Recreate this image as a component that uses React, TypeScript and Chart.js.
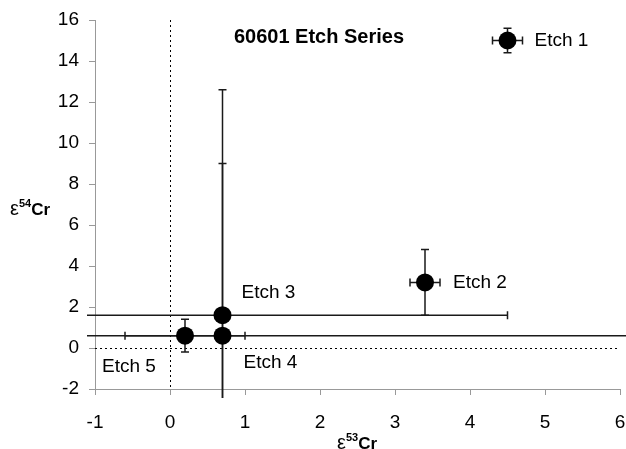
import React, { useEffect, useRef } from "react";
import { Chart, registerables } from "chart.js";

Chart.register(...registerables);

// ---- data ----
const etchNames = ["Etch 1", "Etch 2", "Etch 3", "Etch 4", "Etch 5"];
const e53Cr = [4.5, 3.4, 0.7, 0.7, 0.2];
const e54Cr = [15.0, 3.2, 1.6, 0.6, 0.6];
const e53CrErr = [0.2, 0.2, 3.8, 7.0, 0.8];
const e54CrErr = [0.6, 1.6, 11.0, 8.4, 0.8];
const xRange = [-1, 6];
const yRange = [-2, 16];
const xStep = 1;
const yStep = 2;
const chartTitle = "60601 Etch Series";

// ---- styles ----
const FONT = "'Liberation Sans', Arial, sans-serif";
const labelOffsets = [
  [27, 0],
  [28, 0],
  [19, -22],
  [21, 27],
  [-83, 31],
];

const customPlugin = {
  id: "custom",
  beforeDatasetsDraw(chart: any) {
    const { ctx, chartArea, scales } = chart;
    const xs = scales.x;
    const ys = scales.y;
    ctx.save();
    // dotted zero lines
    ctx.strokeStyle = "#000";
    ctx.lineWidth = 1;
    ctx.setLineDash([2, 3]);
    const x0 = Math.round(xs.getPixelForValue(0)) + 0.5;
    const y0 = Math.round(ys.getPixelForValue(0)) + 0.5;
    ctx.beginPath();
    ctx.moveTo(x0, chartArea.top);
    ctx.lineTo(x0, chartArea.bottom);
    ctx.moveTo(chartArea.left, y0);
    ctx.lineTo(chartArea.right, y0);
    ctx.stroke();
    ctx.setLineDash([]);

    // error bars (clipped to a slightly extended plot area)
    ctx.beginPath();
    ctx.rect(chartArea.left - 8, 0, chart.width - (chartArea.left - 8), chartArea.bottom + 9);
    ctx.clip();
    ctx.strokeStyle = "#1a1a1a";
    ctx.lineWidth = 1.5;
    const cap = 4;
    for (let i = 0; i < e53Cr.length; i++) {
      const px = xs.getPixelForValue(e53Cr[i]);
      const py = ys.getPixelForValue(e54Cr[i]);
      const xl = xs.getPixelForValue(e53Cr[i] - e53CrErr[i]);
      const xr = xs.getPixelForValue(e53Cr[i] + e53CrErr[i]);
      const yt = ys.getPixelForValue(e54Cr[i] + e54CrErr[i]);
      const yb = ys.getPixelForValue(e54Cr[i] - e54CrErr[i]);
      ctx.beginPath();
      ctx.moveTo(xl, py);
      ctx.lineTo(xr, py);
      ctx.moveTo(xl, py - cap);
      ctx.lineTo(xl, py + cap);
      ctx.moveTo(xr, py - cap);
      ctx.lineTo(xr, py + cap);
      ctx.moveTo(px, yt);
      ctx.lineTo(px, yb);
      ctx.moveTo(px - cap, yt);
      ctx.lineTo(px + cap, yt);
      ctx.moveTo(px - cap, yb);
      ctx.lineTo(px + cap, yb);
      ctx.stroke();
    }
    ctx.restore();
  },
  afterDatasetsDraw(chart: any) {
    const { ctx, scales } = chart;
    const xs = scales.x;
    const ys = scales.y;
    ctx.save();
    ctx.fillStyle = "#000";
    ctx.textBaseline = "middle";
    ctx.textAlign = "left";
    ctx.font = `19px ${FONT}`;
    for (let i = 0; i < etchNames.length; i++) {
      const px = xs.getPixelForValue(e53Cr[i]);
      const py = ys.getPixelForValue(e54Cr[i]);
      ctx.fillText(etchNames[i], px + labelOffsets[i][0], py + labelOffsets[i][1]);
    }
    // title
    ctx.font = `bold 20px ${FONT}`;
    ctx.textAlign = "center";
    ctx.fillText(chartTitle, 319, 37);

    // axis titles with superscripts
    const drawTitle = (sup: string, cx: number, cy: number) => {
      ctx.textAlign = "left";
      ctx.textBaseline = "alphabetic";
      const parts = [
        { t: "ε", f: `20px ${FONT}`, dy: 0 },
        { t: sup, f: `bold 11px ${FONT}`, dy: -8 },
        { t: "Cr", f: `bold 17px ${FONT}`, dy: 0 },
      ];
      let w = 0;
      for (const p of parts) {
        ctx.font = p.f;
        w += ctx.measureText(p.t).width;
      }
      let x = cx - w / 2;
      for (const p of parts) {
        ctx.font = p.f;
        ctx.fillText(p.t, x, cy + 6 + p.dy);
        x += ctx.measureText(p.t).width;
      }
    };
    drawTitle("54", 30, 209);
    drawTitle("53", 357, 443);
    ctx.restore();
  },
};

export default function App() {
  const ref = useRef<HTMLCanvasElement>(null);
  useEffect(() => {
    document.body.style.margin = "0";
    const canvas = ref.current!;
    const chart = new Chart(canvas, {
      type: "scatter",
      data: {
        datasets: [
          {
            label: "Etch",
            data: e53Cr.map((v, i) => ({ x: v, y: e54Cr[i] })),
            pointRadius: 9,
            pointBackgroundColor: "#000",
            pointBorderColor: "#000",
            pointBorderWidth: 0,
          },
        ],
      },
      options: {
        animation: false,
        responsive: false,
        devicePixelRatio: 1,
        layout: { autoPadding: false, padding: { left: 0, right: 6, top: 20, bottom: 0 } },
        plugins: { legend: { display: false }, tooltip: { enabled: false } },
        scales: {
          x: {
            type: "linear",
            min: xRange[0],
            max: xRange[1],
            ticks: { stepSize: xStep, color: "#000", font: { family: FONT, size: 19 }, padding: 16 },
            grid: { drawOnChartArea: false, drawTicks: true, tickLength: 6, color: "#999" },
            border: { display: true, color: "#999", width: 1 },
            afterFit: (s: any) => {
              s.height = 60;
              s.paddingLeft = 0;
              s.paddingRight = 0;
            },
          },
          y: {
            type: "linear",
            min: yRange[0],
            max: yRange[1],
            ticks: { stepSize: yStep, color: "#000", font: { family: FONT, size: 19 }, padding: 10 },
            grid: { drawOnChartArea: false, drawTicks: true, tickLength: 6, color: "#999" },
            border: { display: true, color: "#999", width: 1 },
            afterFit: (s: any) => {
              s.width = 95;
              s.paddingTop = 0;
              s.paddingBottom = 0;
            },
          },
        },
      },
      plugins: [customPlugin],
    });
    return () => chart.destroy();
  }, []);
  return <canvas ref={ref} width={626} height={449} style={{ display: "block" }} />;
}
